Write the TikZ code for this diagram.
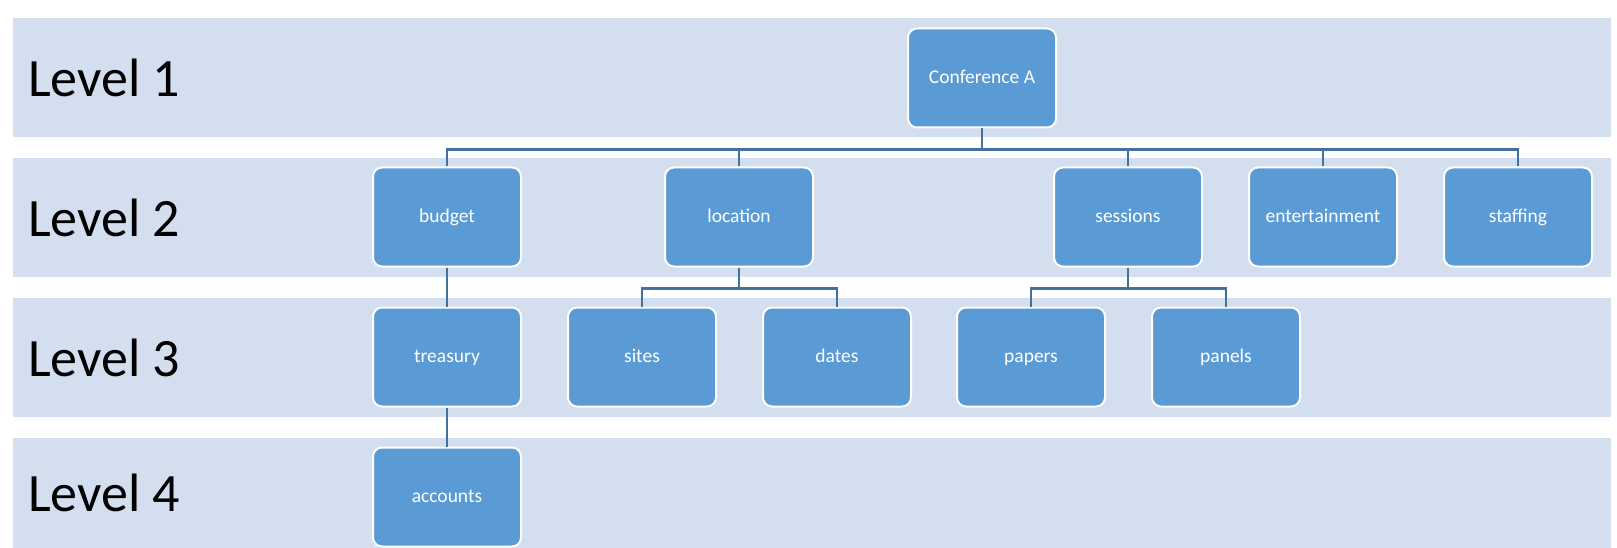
\documentclass[tikz,border=0pt]{standalone}
\usepackage{fontspec}
\setmainfont{Carlito}
\usetikzlibrary{positioning}

\definecolor{bandblue}{HTML}{D3DEEE}
\definecolor{boxblue}{HTML}{5B9BD5}
\definecolor{lineblue}{HTML}{41719C}

\tikzset{
  band/.style={fill=bandblue, draw=none},
  levellabel/.style={anchor=west, inner sep=0pt, font=\fontsize{54}{60}\selectfont},
  item/.style={rectangle, rounded corners=9pt, fill=boxblue, draw=white, line width=2pt,
    minimum width=148pt, minimum height=99pt, text=white, text height=2.5ex, text depth=.4ex,
    font=\fontsize{19.5}{22}\selectfont},
  link/.style={draw=lineblue, line width=2.6pt}
}

\begin{document}
\begin{tikzpicture}[x=1pt, y=-1pt]

\useasboundingbox (0,0) rectangle (1617,548);

\foreach \lv/\top/\bot in {1/18/137, 2/158/277, 3/298/417, 4/438/548}
{
    \fill[band] (13,\top) rectangle (1611,\bot);
    \node[levellabel] (lab\lv) at (28,{(\top+\bot)/2}) {Level \lv};
}

\node[item] (conf) at (982,78) {Conference A};

\node[item] (budget) at (447,217) {budget};
\node[item] (location) at (739,217) {location};
\node[item] (sessions) at (1128,217) {sessions};
\node[item] (entertainment) at (1323,217) {entertainment};
\node[item] (staffing) at (1518,217) {staffing};

\node[item] (treasury) at (447,357) {treasury};
\node[item] (sites) at (642,357) {sites};
\node[item] (dates) at (837,357) {dates};
\node[item] (papers) at (1031,357) {papers};
\node[item] (panels) at (1226,357) {panels};

\node[item] (accounts) at (447,497) {accounts};

\foreach \child in {budget,location,sessions,entertainment,staffing}
    \draw[link] (conf.south) -- ++(0,21) -| (\child.north);

\foreach \child in {sites,dates}
    \draw[link] (location.south) -- ++(0,21) -| (\child.north);

\foreach \child in {papers,panels}
    \draw[link] (sessions.south) -- ++(0,21) -| (\child.north);

\draw[link] (budget) -- (treasury);
\draw[link] (treasury) -- (accounts);

\end{tikzpicture}
\end{document}
